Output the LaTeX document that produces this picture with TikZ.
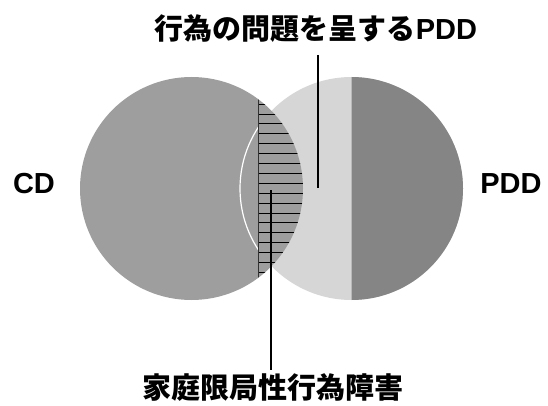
\documentclass[tikz,border=0pt]{standalone}
\usepackage{fontspec}
\setsansfont{Liberation Sans}
\newfontfamily\cjk{Noto Sans CJK JP}
\definecolor{cdgray}{gray}{0.62}
\definecolor{lightg}{gray}{0.84}
\definecolor{darkg}{gray}{0.52}
\begin{document}
\begin{tikzpicture}[x=1pt,y=-1pt,
  lbl/.style={inner sep=0pt, font=\sffamily\bfseries\fontsize{29}{29}\selectfont},
  jlbl/.style={inner sep=0pt, font=\cjk\bfseries\fontsize{#1}{#1}\selectfont},
  conn/.style={line width=1.1pt, black},
  hatchline/.style={line width=0.7pt, black},
  ring/.style={circle, minimum size=223pt, inner sep=0pt, draw=none}]
\useasboundingbox (0,0) rectangle (548,406);
% right circle (PDD)
\node[ring, fill=lightg] (pddc) at (351.5,188.5) {};
\begin{scope}
  \clip (351.5,0) rectangle (548,406);
  \fill[darkg] (pddc.center) circle (111.5pt);
\end{scope}
% left circle (CD)
\node[ring, fill=cdgray] (cdc) at (191.5,188.5) {};
\begin{scope}
  \clip (cdc.center) circle (111.5pt);
  \begin{scope}
    \clip (0,0) rectangle (258,406);
    \draw[white, line width=1.2pt] (pddc.center) circle (111.5pt);
  \end{scope}
  \foreach \y in {104,113.9,...,275} \draw[hatchline] (258,\y) -- (310,\y);
  \draw[gray!40!black, line width=0.5pt] (258,95) -- (258,282);
\end{scope}
% labels
\node[lbl] (cdl) at (34,184) {CD};
\node[lbl] (pddl) at (511,184) {PDD};
\node[jlbl=29] (top) at (316,29) {行為の問題を呈する{\sffamily PDD}};
\node[jlbl=29] (bot) at (272.5,388) {家庭限局性行為障害};
% connectors
\coordinate (tA) at (318,55);
\coordinate (tB) at (318,188);
\draw[conn] (tA) -- (tB);
\coordinate (bA) at (271,190);
\coordinate (bB) at (271,370);
\draw[conn] (bA) -- (bB);
\end{tikzpicture}
\end{document}
